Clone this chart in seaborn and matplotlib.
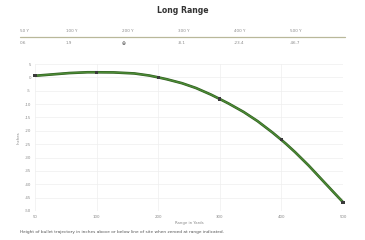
import numpy as np
import pandas as pd
import matplotlib
matplotlib.use("Agg")
import matplotlib.pyplot as plt
from matplotlib.path import Path
from matplotlib.patches import PathPatch
import seaborn as sns

ranges = [50, 100, 200, 300, 400, 500]
drop = [0.6, 1.9, 0.0, -8.1, -23.4, -46.7]
header_labels = ["50 Y", "100 Y", "200 Y", "300 Y", "400 Y", "500 Y"]
value_labels = ["0.6", "1.9", "\u2295", "-8.1", "-23.4", "-46.7"]
y_ticks = [5, 0, -5, -10, -15, -20, -25, -30, -35, -40, -45, -50]

sns.set_theme(style="white")
plt.rcParams['font.family'] = ['DejaVu Sans']
plt.rcParams['axes.unicode_minus'] = False

df = pd.DataFrame({"pos": np.arange(len(ranges)), "drop": drop})

fig = plt.figure(figsize=(3.65, 2.4), dpi=100)
W, H = 365, 240

def fx(px):
    return px / W

def fy(py):
    return 1 - py / H

# Title
fig.text(0.5, fy(10.5), "Long Range", ha="center", va="center", fontsize=6.2,
         fontweight="bold", color="#333333", fontstretch="condensed",
         family=["DejaVu Sans Condensed", "Liberation Sans Narrow", "DejaVu Sans"])

# Table
gray = "#8a8a8a"
hx = [20, 66, 122, 178, 234, 290]
for x, h, v in zip(hx, header_labels, value_labels):
    fig.text(fx(x), fy(30.5), h, ha="left", va="center", fontsize=3, color=gray)
    if v == "\u2295":
        fig.text(fx(x), fy(43.5), v, ha="left", va="center", fontsize=3.4,
                 color="#444444")
    else:
        fig.text(fx(x), fy(43.5), v, ha="left", va="center", fontsize=3, color=gray)
fig.add_artist(plt.Line2D([fx(20), fx(345)], [fy(36.5), fy(36.5)],
                          color="#b9b89a", lw=0.9))

# Plot area
ax = fig.add_axes([fx(35), fy(211), fx(343) - fx(35), fy(64) - fy(211)])
ax.set_xlim(0, len(ranges) - 1)
ax.set_ylim(-50, 5)

# smooth curve through the data points (cubic Bezier segments)
pts = np.column_stack([df["pos"].to_numpy(float), df["drop"].to_numpy(float)])
n = len(pts)
verts = [tuple(pts[0])]
codes = [Path.MOVETO]
t = 0.2
for i in range(n - 1):
    p0 = pts[i - 1] if i > 0 else pts[i]
    p1 = pts[i]
    p2 = pts[i + 1]
    p3 = pts[i + 2] if i + 2 < n else pts[i + 1]
    c1 = p1 + (p2 - p0) * t
    c2 = p2 - (p3 - p1) * t
    verts += [tuple(c1), tuple(c2), tuple(p2)]
    codes += [Path.CURVE4] * 3
path = Path(verts, codes)
ax.add_patch(PathPatch(path, facecolor="none", edgecolor="#2f5e1f", lw=1.9,
                       clip_on=False, zorder=3, capstyle="round"))
ax.add_patch(PathPatch(path, facecolor="none", edgecolor="#4c8a35", lw=1.0,
                       clip_on=False, zorder=3, capstyle="round"))

sns.scatterplot(data=df, x="pos", y="drop", ax=ax, marker="s", s=5,
                color="#3a3a3a", edgecolor="none", zorder=4, clip_on=False)

ax.set_xticks(range(len(ranges)))
ax.set_xticklabels([str(r) for r in ranges])
ax.set_yticks(y_ticks)
ax.set_yticklabels([str(v) for v in y_ticks])
ax.tick_params(axis="both", labelsize=2.8, colors="#888888", length=0)
ax.tick_params(axis="x", pad=3)
ax.tick_params(axis="y", pad=3)
ax.grid(True, color="#eeeeee", lw=0.5)
ax.set_axisbelow(True)
for s in ax.spines.values():
    s.set_visible(False)
ax.axhline(-50, color="#e2e2e2", lw=0.6, zorder=1)
ax.set_xlabel("Range in Yards", fontsize=2.8, color="#888888", labelpad=1.5)
ax.set_ylabel("Inches", fontsize=2.8, color="#888888", labelpad=3)

# Caption
fig.text(fx(20), fy(232), "Height of bullet trajectory in inches above or below line of site when zeroed at range indicated.",
         ha="left", va="center", fontsize=3.1, color="#555555")

fig.savefig("out.png", dpi=100)
